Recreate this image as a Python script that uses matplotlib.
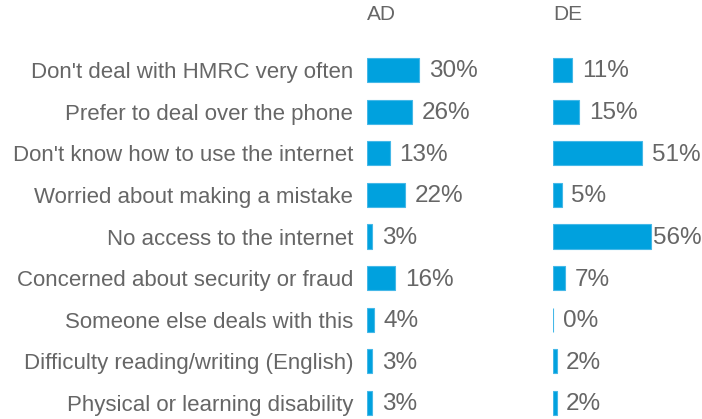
import matplotlib
matplotlib.use("Agg")
import matplotlib.pyplot as plt

plt.rcParams['font.family'] = ['Liberation Sans', 'DejaVu Sans']

categories = [
    "Don't deal with HMRC very often",
    "Prefer to deal over the phone",
    "Don't know how to use the internet",
    "Worried about making a mistake",
    "No access to the internet",
    "Concerned about security or fraud",
    "Someone else deals with this",
    "Difficulty reading/writing (English)",
    "Physical or learning disability",
]
ad_values = [30, 26, 13, 22, 3, 16, 4, 3, 3]
de_values = [11, 15, 51, 5, 56, 7, 0, 2, 2]
panel_titles = ["AD", "DE"]

bar_color = '#00A1DE'
edge_color = '#45B8E8'
text_color = '#666666'

W, H = 702, 419
fig = plt.figure(figsize=(W / 100, H / 100), dpi=100)

# axes placed in pixel coords: left, width
ax1 = fig.add_axes([367 / W, 0, 178 / W, 1])
ax2 = fig.add_axes([553 / W, 0, 149 / W, 1])

px_per_pct = 1.75
row_h = 41.625
y_top = -70 / row_h
y_bot = (H - 70) / row_h
ypos = list(range(len(categories)))

for ax, vals, title in zip([ax1, ax2], [ad_values, de_values], panel_titles):
    width_px = ax.get_position().width * W
    ax.set_xlim(0, width_px / px_per_pct)
    ax.set_ylim(y_bot, y_top)
    ax.barh(ypos, vals, height=0.58, color=bar_color, edgecolor=edge_color, linewidth=0.8)
    # keep labels inside the panel (the last one gets pulled back onto the bar end)
    xmax = (width_px - 59) / px_per_pct
    for y, v in zip(ypos, vals):
        ax.annotate(f"{v}%", xy=(min(v, xmax), y), xytext=(7, -1), textcoords='offset points',
                    va='center', ha='left', fontsize=17.5, color=text_color)
    ax.text(0, (15 - 70) / row_h, title, fontsize=15, color=text_color, va='center', ha='left')
    ax.set_xticks([])
    ax.set_yticks([])
    for s in ax.spines.values():
        s.set_visible(False)
    ax.patch.set_visible(False)

ax1.set_yticks(ypos)
ax1.set_yticklabels(categories, fontsize=16, color=text_color)
ax1.tick_params(axis='y', length=0, pad=10)

fig.savefig('out.png', dpi=100)
